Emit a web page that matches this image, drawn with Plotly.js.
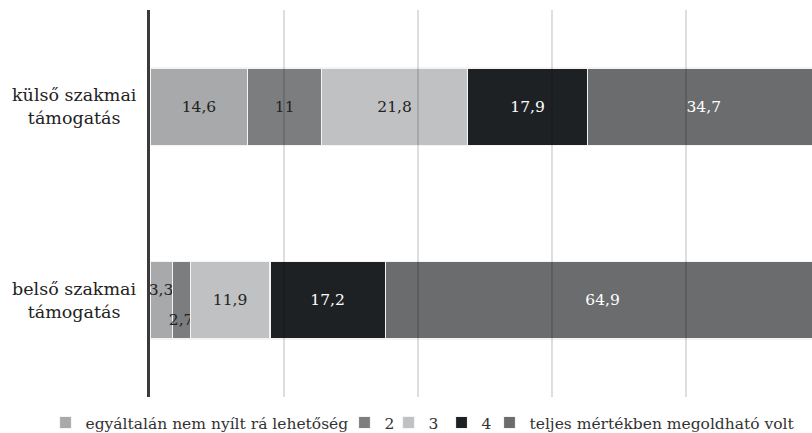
<!DOCTYPE html>
<html><head><meta charset="utf-8">
<script src="https://cdn.plot.ly/plotly-3.0.1.min.js"></script>
<style>html,body{margin:0;padding:0;background:#fff;overflow:hidden;}#chart{width:822px;height:433px;}</style>
</head><body><div id="chart"></div>
<script>
const categories = ['belső szakmai<br>támogatás', 'külső szakmai<br>támogatás'];
const seriesNames = ['egyáltalán nem nyílt rá lehetőség', '2', '3', '4', 'teljes mértékben megoldható volt'];
const s1 = [3.3, 14.6];
const s2 = [2.7, 11];
const s3 = [11.9, 21.8];
const s4 = [17.2, 17.9];
const s5 = [64.9, 34.7];
const gridTicks = [20, 40, 60, 80];

const allSeries = [s1, s2, s3, s4, s5];
const colors = ['#a7a9aa', '#7b7d7f', '#c0c1c2', '#1e2124', '#6a6c6d'];
const textColors = ['#222', '#222', '#222', '#fff', '#fff'];
const legendX = [-0.1555, 0.2894, 0.3549, 0.4338, 0.5052];
const font = 'DejaVu Serif, serif';

function fmt(v){ return String(v).replace('.', ','); }
const legendKeys = allSeries.map((_, i) => i === 0 ? 'legend' : 'legend' + (i + 1));

const traces = allSeries.map((vals, i) => ({
  type: 'bar', orientation: 'h', name: seriesNames[i],
  y: categories, x: vals, legend: legendKeys[i],
  marker: {color: colors[i], line: {color: '#f4f4f4', width: 1.2}},
  text: vals.map(v => {
    if (v < 5 && i === 1) return '\u00a0<br>\u00a0<br>' + fmt(v);
    if (v < 5) return fmt(v) + '<br>\u00a0';
    return fmt(v);
  }),
  textposition: 'inside', insidetextanchor: 'middle', constraintext: 'none',
  textfont: {family: font, size: 15.5, color: textColors[i]},
  hoverinfo: 'none', cliponaxis: false
}));

const shapes = gridTicks.map(t => ({
  type: 'line', xref: 'x', yref: 'paper', x0: t, x1: t, y0: 0, y1: 1,
  line: {color: 'rgba(0,0,0,0.2)', width: 1.3}, layer: 'above'
}));

const annotations = categories.map(c => ({
  xref: 'paper', yref: 'y', x: -0.112, y: c, text: c, showarrow: false,
  xanchor: 'center', yanchor: 'middle', align: 'center',
  font: {family: font, size: 17.5, color: '#222'}
}));

const layout = {
  width: 822, height: 433,
  margin: {l: 150, r: 0, t: 10, b: 36, autoexpand: false},
  barmode: 'stack', bargap: 0.6,
  paper_bgcolor: '#fff', plot_bgcolor: '#fff',
  font: {family: font, color: '#222'},
  xaxis: {range: [0, 100.3], showgrid: false, zeroline: false, showticklabels: false, ticks: '', fixedrange: true},
  yaxis: {showline: true, linecolor: '#3a3a3a', linewidth: 3, showgrid: false, zeroline: false,
          showticklabels: false, ticks: '', automargin: false},
  shapes: shapes,
  annotations: annotations,
  showlegend: true
};
legendKeys.forEach((k, i) => {
  layout[k] = {orientation: 'h', xref: 'paper', yref: 'paper', x: legendX[i], y: -0.067,
    xanchor: 'left', yanchor: 'middle', font: {family: font, size: 15.5, color: '#333'},
    itemwidth: 30, bgcolor: 'rgba(0,0,0,0)'};
});

Plotly.newPlot('chart', traces, layout, {displayModeBar: false, staticPlot: true});
</script></body></html>
